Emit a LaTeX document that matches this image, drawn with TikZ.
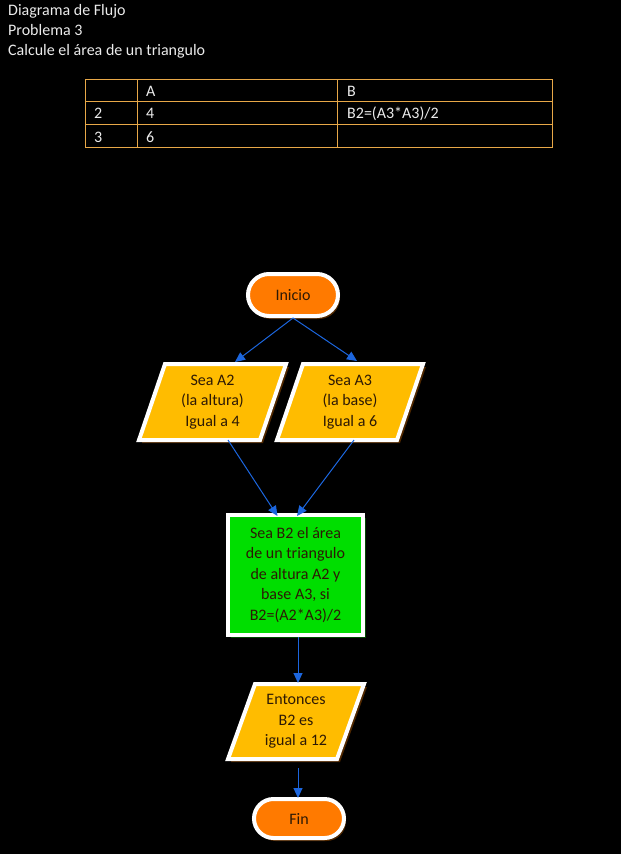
\documentclass[tikz,border=0pt]{standalone}
\usepackage{fontspec}
\setmainfont{Carlito}
\usetikzlibrary{arrows.meta,calc,shadows}
\pgfdeclarelayer{pagebg}
\pgfdeclarelayer{shapelayer}
\pgfsetlayers{pagebg,shapelayer,main}
\definecolor{tblorange}{RGB}{232,168,72}
\definecolor{startorange}{RGB}{255,122,0}
\definecolor{ioyellow}{RGB}{255,188,0}
\definecolor{procgreen}{RGB}{0,222,0}
\definecolor{arrowblue}{RGB}{28,102,222}
\definecolor{shadowbrown}{RGB}{80,40,0}
\definecolor{shadowgreen}{RGB}{0,70,0}
\definecolor{txtdark}{RGB}{45,25,5}
\definecolor{txtlight}{RGB}{235,235,235}
\tikzset{
  titletext/.style={anchor=base west,text=txtlight,inner sep=0,font=\fontsize{16}{19}\selectfont},
  celltext/.style={anchor=base west,text=txtlight,inner sep=0,font=\fontsize{16}{19}\selectfont},
  terminal/.style={draw=white,line width=4pt,fill=startorange,text=txtdark,
    font=\fontsize{16}{19}\selectfont,minimum width=90pt,inner sep=0,
    drop shadow={shadow xshift=2pt,shadow yshift=-3pt,fill=shadowbrown,opacity=1}},
  procbox/.style={draw=white,line width=4pt,fill=procgreen,text=txtdark,align=center,
    font=\fontsize{16}{20.5}\selectfont,inner sep=0,
    drop shadow={shadow xshift=3pt,shadow yshift=-3pt,fill=shadowgreen,opacity=1}},
  iotext/.style={draw=none,inner sep=0,outer sep=0,text=txtdark,align=center,
    font=\fontsize{16}{20.5}\selectfont},
  iofill/.style={draw=white,line width=4pt,fill=ioyellow,line join=miter},
  ioshadow/.style={fill=shadowbrown},
  flowarrow/.style={draw=arrowblue,line width=1pt,-{Triangle[length=10pt,width=9pt]}}
}
\newcommand{\paralshape}[2]{%
  \begin{pgfonlayer}{shapelayer}
    \fill[ioshadow] ($(#1.south west)+(3,3)$) -- ($(#1.north west)+(#2+3,3)$) --
      ($(#1.north east)+(3,3)$) -- ($(#1.south east)+(-#2+3,3)$) -- cycle;
    \filldraw[iofill] (#1.south west) -- ($(#1.north west)+(#2,0)$) --
      (#1.north east) -- ($(#1.south east)+(-#2,0)$) -- cycle;
  \end{pgfonlayer}}
\begin{document}
\begin{tikzpicture}[x=1pt,y=-1pt]
\begin{pgfonlayer}{pagebg}
\useasboundingbox[fill=black] (0,0) rectangle (621,854);
\end{pgfonlayer}

% titles
\node[titletext] (t1) at (8,15) {Diagrama de Flujo};
\node[titletext] (t2) at (8,35) {Problema 3};
\node[titletext] (t3) at (8,55) {Calcule el área de un triangulo};

% table
\draw[tblorange,line width=1pt] (85,79) rectangle (552,147);
\draw[tblorange,line width=1pt] (85,101) -- (552,101);
\draw[tblorange,line width=1pt] (85,124) -- (552,124);
\draw[tblorange,line width=1pt] (137,79) -- (137,147);
\draw[tblorange,line width=1pt] (337,79) -- (337,147);
\node[celltext] (cA) at (146,96) {A};
\node[celltext] (cB) at (347,96) {B};
\node[celltext] (c2) at (94,118) {2};
\node[celltext] (c4) at (146,118) {4};
\node[celltext] (cf) at (347,118) {B2=(A3*A3)/2};
\node[celltext] (c3) at (94,142) {3};
\node[celltext] (c6) at (146,142) {6};

% flowchart
\node[terminal,minimum height=42pt,rounded corners=21pt] (ini) at (293,295) {Inicio};

\node[iotext,minimum width=147pt,minimum height=76pt] (a2) at (212.5,402)
  {Sea A2\\(la altura)\\Igual a 4};
\paralshape{a2}{26}
\node[iotext,minimum width=146pt,minimum height=76pt] (a3) at (350,402)
  {Sea A3\\(la base)\\Igual a 6};
\paralshape{a3}{26}

\node[procbox,minimum width=135pt,minimum height=120pt] (b2) at (295.5,575)
  {Sea B2 el área\\de un triangulo\\de altura A2 y\\base A3, si\\B2=(A2*A3)/2};

\node[iotext,minimum width=136pt,minimum height=75pt] (ent) at (296,721.5)
  {Entonces\\B2 es\\igual a 12};
\paralshape{ent}{27}

\node[terminal,minimum height=39pt,rounded corners=19.5pt] (fin) at (299,818.5) {Fin};

% connectors
\draw[flowarrow] (ini.south) -- ($(a2.north)+(22.5,-2)$);
\draw[flowarrow] (ini.south) -- ($(a3.north)+(7,-3)$);
\draw[flowarrow] ($(a2.south)+(15.5,0)$) -- ($(b2.north)+(-18,3)$);
\draw[flowarrow] ($(a3.south)+(4,0)$) -- ($(b2.north)+(1.5,3)$);
\draw[flowarrow] ($(b2.south)+(2.5,0)$) -- ($(ent.north)+(2,-1)$);
\draw[flowarrow] ($(ent.south)+(2,9)$) -- ($(fin.north)+(-1,1)$);
\end{tikzpicture}
\end{document}
